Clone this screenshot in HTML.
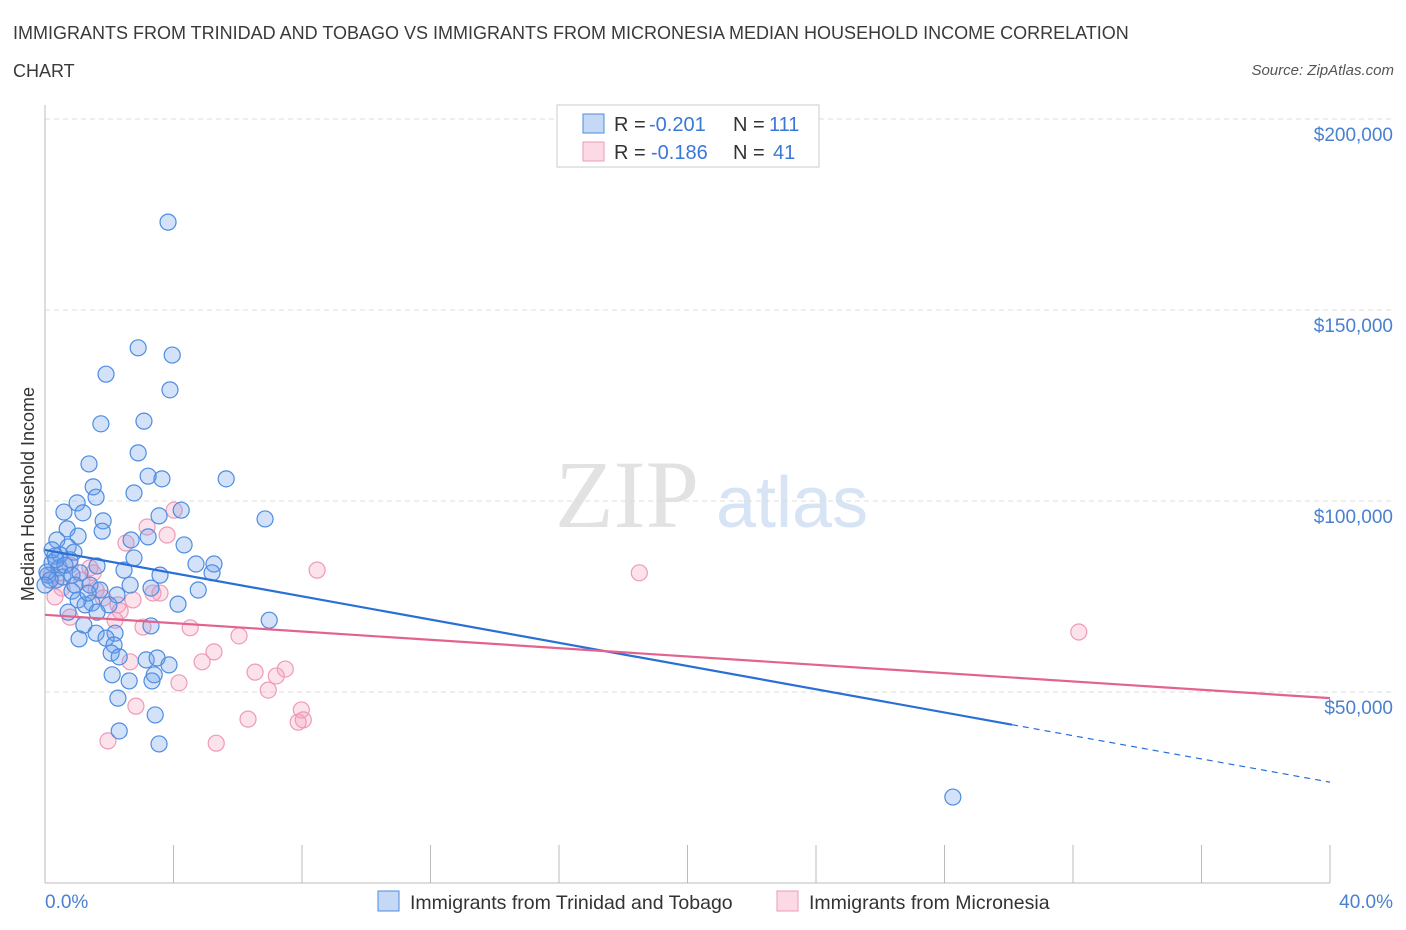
<!DOCTYPE html>
<html><head><meta charset="utf-8"><style>
body{margin:0;background:#fff;font-family:"Liberation Sans",sans-serif;}
#wrap{position:relative;width:1406px;height:930px;overflow:hidden;}
.t{position:absolute;white-space:nowrap;}
</style></head><body>
<div id="wrap">
<div class="t" style="left:13px;top:14px;font-size:18px;color:#3a3a3a;line-height:38px;">IMMIGRANTS FROM TRINIDAD AND TOBAGO VS IMMIGRANTS FROM MICRONESIA MEDIAN HOUSEHOLD INCOME CORRELATION<br>CHART</div>
<div class="t" style="right:12px;top:62px;font-size:15px;color:#555;font-style:italic;">Source: ZipAtlas.com</div>
<svg id="svg" width="1406" height="930" style="position:absolute;left:0;top:0"></svg>
</div>
<script>
const blueX=[3.83,2.90,3.96,1.90,3.89,1.74,3.08,1.37,2.90,5.64,3.64,3.21,1.50,2.77,1.00,1.59,4.24,0.59,1.18,6.85,1.81,3.55,0.69,1.78,1.03,2.68,4.33,0.37,3.21,0.72,0.90,2.77,4.70,5.26,0.31,0.22,0.44,1.62,2.46,3.58,5.20,0.09,0.34,0.56,2.65,3.30,4.77,0.84,1.03,1.46,2.24,4.14,1.25,1.99,0.72,1.62,6.98,3.30,1.21,1.59,1.06,2.18,1.90,2.15,2.06,2.31,3.15,3.49,3.86,2.09,3.40,3.33,2.62,2.27,3.43,2.31,3.55,28.26,0.06,0.16,0.0,0.47,0.78,0.22,0.34,0.62,0.84,1.09,1.40,1.71,1.34,0.93];
const blueY=[173.0,140.1,138.2,133.2,129.1,120.2,120.9,109.7,112.6,105.8,105.8,106.5,103.7,102.1,99.5,101.0,97.6,97.1,96.9,95.3,94.8,96.1,92.7,92.1,90.8,89.8,88.5,89.8,90.6,88.0,86.6,85.1,83.5,83.5,85.6,83.8,82.5,83.0,81.9,80.6,81.2,80.6,79.3,80.1,78.0,77.2,76.7,76.4,74.1,73.3,75.4,73.0,72.8,72.8,70.9,70.9,68.8,67.3,67.5,65.4,63.9,65.4,64.1,62.3,60.2,59.2,58.4,58.9,57.1,54.5,54.5,52.9,52.9,48.4,44.0,39.8,36.4,22.5,81.4,79.3,78.0,85.9,84.6,87.2,84.6,83.2,80.6,81.2,78.0,76.7,75.9,78.0];
const pinkX=[4.02,3.18,3.80,2.52,0.19,0.78,0.53,1.50,1.59,2.27,0.78,1.81,2.34,3.05,2.74,3.58,3.36,4.52,6.04,8.47,18.50,32.18,5.26,4.89,2.65,6.54,7.48,7.20,6.95,4.17,2.83,6.32,7.98,7.88,8.04,1.96,5.33,0.31,1.15,1.40,2.18];
const pinkY=[97.6,93.2,91.1,89.0,80.6,83.2,77.2,81.2,76.7,72.8,69.6,74.6,71.2,67.0,74.1,75.9,75.9,66.8,64.7,81.9,81.2,65.7,60.5,57.9,57.9,55.2,56.0,54.2,50.5,52.4,46.3,42.9,45.3,42.1,42.7,37.2,36.6,74.9,79.3,82.5,68.8];
const trendStart=[87.2,70.2];
const trendEnd=[26.4,48.4];
const blueSolidEnd=30.1;
const yTicks=[50,100,150,200];
const yTickLabels=["$50,000","$100,000","$150,000","$200,000"];
const xTicks=[0,4,8,12,16,20,24,28,32,36,40];

const NS="http://www.w3.org/2000/svg";
const svg=document.getElementById('svg');
const X0=45,X1=1330,Y0=883,PERK=191/50;
const sx=v=>X0+v/40*(X1-X0);
const sy=v=>Y0-v*PERK;
function mk(tag,attrs,parent){const e=document.createElementNS(NS,tag);for(const k in attrs)e.setAttribute(k,attrs[k]);(parent||svg).appendChild(e);return e;}

let wm=mk('text',{x:555,y:527,'font-size':96,'font-family':'Liberation Serif, serif',fill:'#e2e2e2'});wm.textContent='ZIP';


let wm2=mk('text',{x:716,y:527,'font-size':72,'font-family':'Liberation Sans, sans-serif',fill:'#d6e4f5'});wm2.textContent='atlas';



mk('line',{x1:X0,x2:X1+65,y1:119,y2:119,stroke:'#e3e3e3','stroke-dasharray':'5,4'});
yTicks.forEach((v,i)=>{
  const g=mk('line',{x1:X0,x2:X1+65,y1:sy(v),y2:sy(v),stroke:'#dcdcdc','stroke-dasharray':'5,4'});
  
  
  const t=mk('text',{x:1393,y:sy(v)+22,'text-anchor':'end','font-size':19,fill:'#4a80d0'});
  t.textContent=yTickLabels[i];
  
  
});
mk('line',{x1:X0,x2:X0,y1:105,y2:Y0,stroke:'#bbb'});
mk('line',{x1:X0,x2:X1,y1:Y0,y2:Y0,stroke:'#bbb'});
xTicks.forEach(v=>{
  const l=mk('line',{x1:sx(v),x2:sx(v),y1:Y0-38,y2:Y0,stroke:'#bbb'});
  
  
});
let xl=mk('text',{x:45,y:908,'font-size':19,fill:'#4a80d0'});xl.textContent='0.0%';


let xr=mk('text',{x:1393,y:908,'font-size':19,fill:'#4a80d0','text-anchor':'end'});xr.textContent='40.0%';


let yt=mk('text',{x:34,y:494,'font-size':18,fill:'#333','text-anchor':'middle',transform:'rotate(-90 34 494)'});yt.textContent='Median Household Income';



pinkX.forEach((x,i)=>{
  const c=mk('circle',{cx:sx(x),cy:sy(pinkY[i]),r:8,fill:'rgba(244,160,190,0.3)',stroke:'#ee9ab8','stroke-width':1.2});
  
  
});
blueX.forEach((x,i)=>{
  const c=mk('circle',{cx:sx(x),cy:sy(blueY[i]),r:8,fill:'rgba(110,160,235,0.3)',stroke:'#4d8ce0','stroke-width':1.2});
  
  
});
const bAt=x=>trendStart[0]+(trendEnd[0]-trendStart[0])*x/40;
let b1=mk('line',{x1:sx(0),y1:sy(bAt(0)),x2:sx(blueSolidEnd),y2:sy(bAt(blueSolidEnd)),stroke:'#2a6fd6','stroke-width':2.2});


let b2=mk('line',{x1:sx(blueSolidEnd),y1:sy(bAt(blueSolidEnd)),x2:sx(40),y2:sy(bAt(40)),stroke:'#2a6fd6','stroke-width':1.2,'stroke-dasharray':'6,5'});


let p1=mk('line',{x1:sx(0),y1:sy(trendStart[1]),x2:sx(40),y2:sy(trendEnd[1]),stroke:'#e2638f','stroke-width':2.2});



const lg=mk('g',{});


mk('rect',{x:557,y:105,width:262,height:62,fill:'#fff',stroke:'#ccc'},lg);
mk('rect',{x:583,y:114,width:21,height:19,fill:'rgba(110,160,235,0.4)',stroke:'#4d8ce0'},lg);
mk('rect',{x:583,y:142,width:21,height:19,fill:'rgba(244,160,190,0.4)',stroke:'#ee9ab8'},lg);
function lt(x,y,s,c){const t=mk('text',{x:x,y:y,'font-size':20,fill:c},lg);t.textContent=s;return t;}
lt(614,131,'R = ','#333');lt(649,131,'-0.201','#3a78d8');lt(733,131,'N = ','#333');lt(769,131,'111','#3a78d8');
lt(614,159,'R = ','#333');lt(651,159,'-0.186','#3a78d8');lt(733,159,'N = ','#333');lt(773,159,'41','#3a78d8');

const bl=mk('g',{});


mk('rect',{x:378,y:891,width:21,height:20,fill:'rgba(110,160,235,0.4)',stroke:'#4d8ce0'},bl);
let t1=mk('text',{x:410,y:909,'font-size':19.5,fill:'#333'},bl);t1.textContent='Immigrants from Trinidad and Tobago';


mk('rect',{x:777,y:891,width:21,height:20,fill:'rgba(244,160,190,0.4)',stroke:'#ee9ab8'},bl);
let t2=mk('text',{x:809,y:909,'font-size':19.5,fill:'#333'},bl);t2.textContent='Immigrants from Micronesia';


</script>
</body></html>
